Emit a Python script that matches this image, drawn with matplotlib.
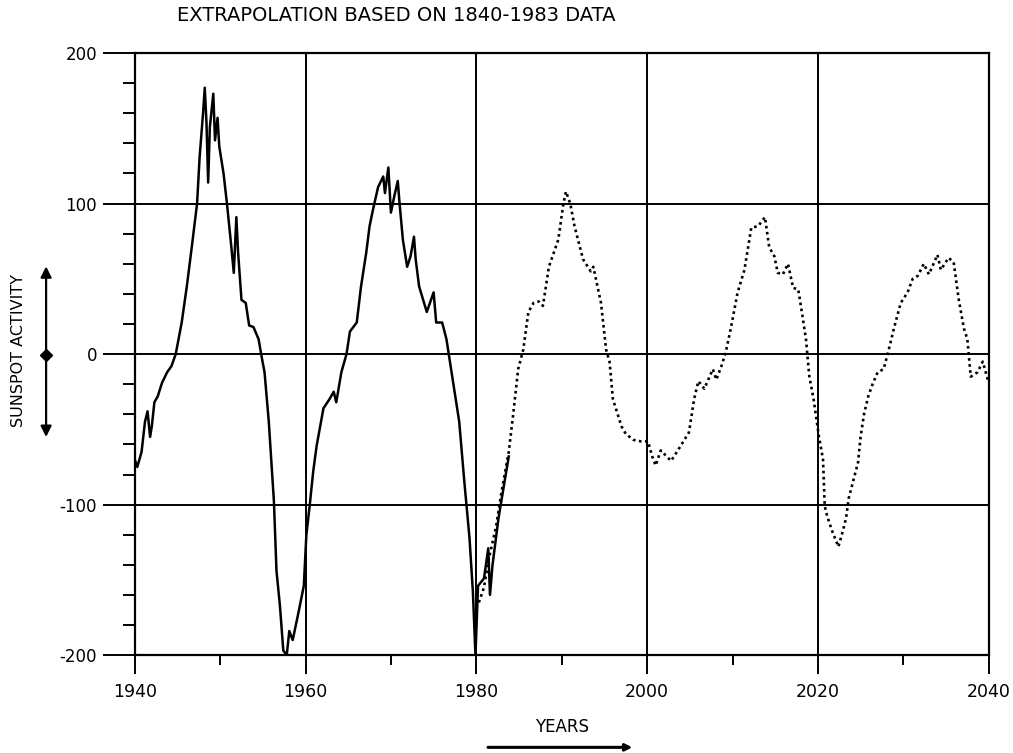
import numpy as np
import matplotlib.pyplot as plt
from matplotlib.lines import Line2D
from matplotlib.patches import FancyArrowPatch
from matplotlib.ticker import MultipleLocator

plt.rcParams['axes.unicode_minus'] = False

# observed sunspot activity (solid)
obs_years = [1940.0, 1940.3, 1940.8, 1941.2, 1941.5, 1941.8, 1942.0, 1942.3, 1942.7, 1943.2,
             1943.8, 1944.3, 1944.8, 1945.5, 1946.1, 1946.7, 1947.3, 1947.6, 1948.0, 1948.2,
             1948.4, 1948.6, 1948.8, 1949.2, 1949.4, 1949.7, 1949.9, 1950.4, 1950.8, 1951.3,
             1951.6, 1951.9, 1952.1, 1952.5, 1953.0, 1953.4, 1953.9, 1954.5, 1954.9, 1955.2,
             1955.7, 1956.3, 1956.6, 1957.0, 1957.4, 1957.8, 1958.1, 1958.5, 1959.2, 1959.8,
             1960.1, 1960.5, 1960.9, 1961.3, 1962.1, 1962.8, 1963.3, 1963.6, 1964.2, 1964.8,
             1965.2, 1966.0, 1966.5, 1967.1, 1967.5, 1967.9, 1968.5, 1969.1, 1969.3, 1969.7,
             1970.0, 1970.4, 1970.8, 1971.0, 1971.4, 1971.9, 1972.3, 1972.7, 1972.9, 1973.3,
             1974.2, 1975.0, 1975.3, 1976.0, 1976.5, 1976.8, 1977.1, 1978.0, 1978.6, 1979.2,
             1979.6, 1979.9, 1980.2, 1980.9, 1981.4, 1981.6, 1981.9, 1982.6, 1983.3, 1983.8]
obs_vals = [-70, -75, -65, -45, -38, -55, -48, -32, -28, -19,
            -12, -8, 0, 21, 45, 72, 100, 131, 160, 177,
            154, 114, 151, 173, 142, 157, 138, 120, 100, 72,
            54, 91, 68, 36, 34, 19, 18, 10, -3, -12,
            -45, -98, -144, -167, -197, -200, -184, -190, -171, -154,
            -120, -100, -78, -61, -36, -30, -25, -32, -12, 0,
            15, 21, 45, 67, 85, 96, 111, 118, 107, 124,
            94, 105, 115, 101, 76, 58, 65, 78, 63, 45,
            28, 41, 21, 21, 10, -1, -12, -45, -85, -122,
            -158, -200, -154, -149, -129, -160, -140, -109, -85, -68]

# extrapolation (dotted)
ext_years = [1980.3, 1980.9, 1981.5, 1982.3, 1983.0, 1983.8, 1984.3, 1984.9, 1985.5, 1986.1,
             1986.7, 1987.3, 1987.8, 1988.5, 1989.6, 1990.2, 1990.5, 1991.0, 1991.5, 1992.5,
             1993.4, 1993.7, 1994.6, 1995.2, 1995.6, 1996.0, 1997.0, 1997.5, 1998.4, 1999.3,
             2000.1, 2000.6, 2001.0, 2001.6, 2002.3, 2002.8, 2003.6, 2004.9, 2005.5, 2006.0,
             2006.7, 2007.7, 2008.1, 2008.7, 2009.2, 2009.8, 2010.6, 2011.4, 2012.2, 2013.0,
             2013.8, 2014.3, 2014.9, 2015.3, 2015.9, 2016.5, 2017.1, 2017.7, 2018.2, 2018.6,
             2019.0, 2019.5, 2020.1, 2020.6, 2020.8, 2021.1, 2021.7, 2022.4, 2022.9, 2023.3,
             2023.6, 2024.1, 2024.7, 2025.0, 2025.4, 2025.9, 2026.4, 2027.0, 2027.7, 2028.3,
             2028.9, 2029.7, 2030.5, 2031.1, 2031.7, 2032.4, 2033.0, 2034.0, 2034.4, 2035.3,
             2035.9, 2036.5, 2037.1, 2037.5, 2037.9, 2038.7, 2039.3, 2039.9]
ext_vals = [-165, -155, -135, -115, -90, -65, -41, -10, 3, 28,
            34, 35, 32, 58, 76, 100, 108, 100, 85, 63,
            55, 58, 34, 3, -5, -30, -48, -53, -57, -58,
            -58, -68, -74, -64, -68, -71, -64, -52, -30, -18,
            -23, -10, -17, -8, 1, 17, 41, 56, 84, 85,
            91, 71, 65, 54, 53, 60, 44, 43, 25, 10,
            -15, -30, -54, -70, -101, -108, -118, -128, -118, -109,
            -96, -85, -72, -55, -40, -28, -20, -12, -10, 3,
            17, 34, 41, 50, 52, 60, 53, 66, 56, 64,
            61, 36, 17, 10, -15, -12, -5, -17]

xticks = [1940, 1960, 1980, 2000, 2020, 2040]
yticks = [-200, -100, 0, 100, 200]

fig = plt.figure(figsize=(10.13, 7.53), dpi=100)
ax = fig.add_axes([0.133, 0.130, 0.843, 0.7995])

for x in xticks[1:-1]:
    ax.axvline(x, color='black', lw=1.4, zorder=1)
for y in yticks[1:-1]:
    ax.axhline(y, color='black', lw=1.4, zorder=1)

ax.plot(ext_years, ext_vals, color='black', lw=1.9, linestyle=(0, (1, 1.3)), zorder=2)
ax.plot(obs_years, obs_vals, color='black', lw=1.8, zorder=3)

ax.set_xlim(1940, 2040)
ax.set_ylim(-200, 200)
ax.set_xticks(xticks)
ax.set_yticks(yticks)
ax.xaxis.set_minor_locator(MultipleLocator(10))
ax.yaxis.set_minor_locator(MultipleLocator(20))
ax.tick_params(axis='x', which='major', direction='out', length=14, width=1.4, pad=6, labelsize=12.5)
ax.tick_params(axis='x', which='minor', direction='out', length=7, width=1.4)
ax.tick_params(axis='y', which='major', direction='out', length=23, width=1.4, pad=4, labelsize=12)
ax.tick_params(axis='y', which='minor', direction='out', length=9, width=1.4)
for s in ax.spines.values():
    s.set_linewidth(1.6)

ax.set_xlabel('YEARS', fontsize=12)
ax.xaxis.set_label_coords(0.5, -0.104)

fig.text(0.0185, 0.535, 'SUNSPOT ACTIVITY', rotation=90, ha='center', va='center', fontsize=11.5)
fig.text(0.175, 0.979, 'EXTRAPOLATION BASED ON 1840-1983 DATA', ha='left', va='center', fontsize=14)

# double arrow next to the y label
ax_x = 0.0455
fig.add_artist(FancyArrowPatch((ax_x, 0.416), (ax_x, 0.650), transform=fig.transFigure,
                               arrowstyle='<|-|>', mutation_scale=16, lw=1.6, color='black'))
fig.add_artist(Line2D([ax_x], [0.5286], transform=fig.transFigure,
                      marker='D', markersize=6, color='black'))

# arrow under YEARS
fig.add_artist(FancyArrowPatch((0.479, 0.0075), (0.627, 0.0075), transform=fig.transFigure,
                               arrowstyle='-|>', mutation_scale=10, lw=2.2, color='black'))

fig.savefig('out.png', dpi=100)
